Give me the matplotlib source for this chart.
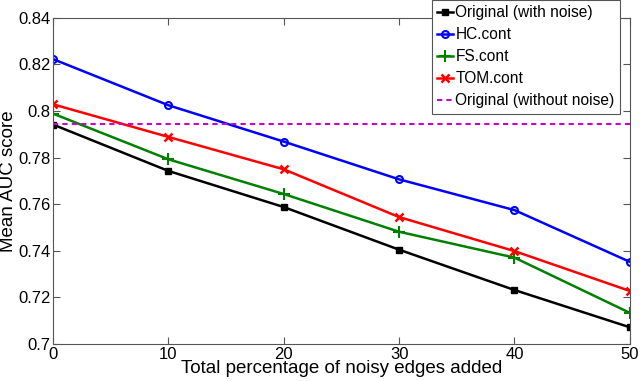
import matplotlib
matplotlib.use("Agg")
import matplotlib.pyplot as plt

# Data
pct = [0, 10, 20, 30, 40, 50]
orig_noise = [0.7942, 0.7743, 0.7588, 0.7405, 0.7232, 0.7072]
hc_cont = [0.8223, 0.8025, 0.7869, 0.7707, 0.7575, 0.7353]
fs_cont = [0.7989, 0.7793, 0.7644, 0.7482, 0.7371, 0.7134]
tom_cont = [0.8029, 0.7889, 0.7750, 0.7545, 0.7399, 0.7228]
orig_clean = 0.7943

yticks = [0.7, 0.72, 0.74, 0.76, 0.78, 0.8, 0.82, 0.84]
ytick_labels = ["0.7", "0.72", "0.74", "0.76", "0.78", "0.8", "0.82", "0.84"]
xticks = [0, 10, 20, 30, 40, 50]

plt.rcParams["font.family"] = ["Liberation Sans", "DejaVu Sans"]

fig = plt.figure(figsize=(6.4, 3.81), dpi=100)
ax = fig.add_axes([0.083, 0.097, 0.901, 0.856])

lw = 1.8
ax.plot(pct, orig_noise, color="black", lw=lw, marker="s", ms=4, label="Original (with noise)")
ax.plot(pct, hc_cont, color="blue", lw=lw, marker="o", ms=5, mfc="none", mew=1.5, label="HC.cont")
ax.plot(pct, fs_cont, color="green", lw=lw, marker="+", ms=8, mew=1.5, label="FS.cont")
ax.plot(pct, tom_cont, color="red", lw=lw, marker="x", ms=6, mew=1.8, label="TOM.cont")
ax.plot([pct[0], pct[-1]], [orig_clean, orig_clean], color="#cc00cc", lw=1.5,
        ls=(0, (2.5, 2)), label="Original (without noise)")

ax.set_xlim(0, 50)
ax.set_ylim(0.7, 0.84)
ax.set_xticks(xticks)
ax.set_yticks(yticks)
ax.set_yticklabels(ytick_labels)
ax.tick_params(direction="in", length=5, labelsize=12, colors="#555555",
               labelcolor="black", top=True, right=True, pad=2)
for s in ax.spines.values():
    s.set_color("#555555")

ax.set_xlabel("Total percentage of noisy edges added", fontsize=13.5, labelpad=-1)
ax.set_ylabel("Mean AUC score", fontsize=13.5, labelpad=1)

leg = ax.legend(loc="upper right", bbox_to_anchor=(620 / 640, 1.0),
                bbox_transform=fig.transFigure, fontsize=11.2, handlelength=1.0,
                handletextpad=0.15, borderpad=0.35, labelspacing=0.45,
                borderaxespad=0, fancybox=False, framealpha=1)
leg.get_frame().set_edgecolor("#555555")
leg.get_frame().set_linewidth(0.8)

fig.savefig("out.png", dpi=100)
